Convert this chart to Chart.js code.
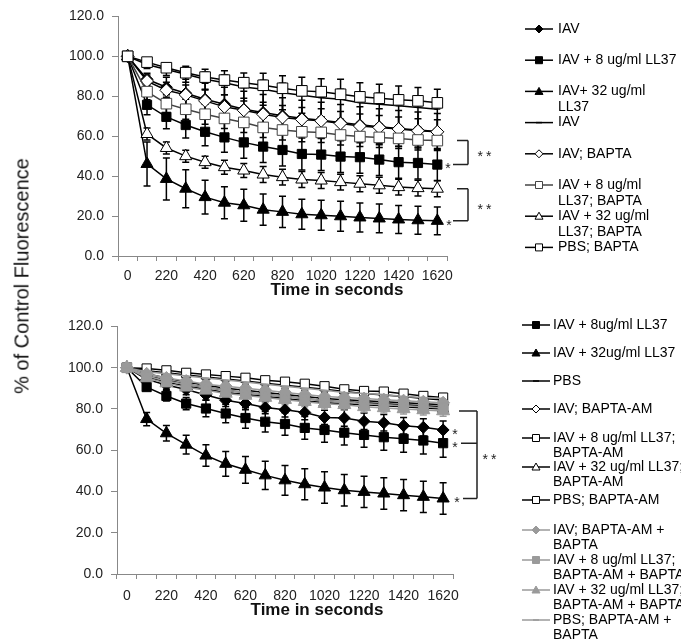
<!DOCTYPE html>
<html>
<head>
<meta charset="utf-8">
<script src="https://cdn.jsdelivr.net/npm/chart.js@4.4.0/dist/chart.umd.min.js"></script>
<style>
body { margin: 0; background: #fff; width: 681px; height: 640px; position: relative; overflow: hidden; font-family: "Liberation Sans", Arial, sans-serif; }
#w1 { position: absolute; left: 0; top: 0; width: 681px; height: 310px; }
#w2 { position: absolute; left: 0; top: 310px; width: 681px; height: 330px; }
#ytitle { position: absolute; left: 22px; top: 276px; transform: translate(-50%, -50%) rotate(-90deg); white-space: nowrap; font-size: 20px; color: #111; }
</style>
</head>
<body>
<div id="w1"><canvas id="g1" width="681" height="310"></canvas></div>
<div id="w2"><canvas id="g2" width="681" height="330"></canvas></div>
<div id="ytitle">% of Control Fluorescence</div>
<script>
var FONT = "'Liberation Sans', Arial, sans-serif";

// time points (s)
var timeLabels = ['0', '120', '220', '320', '420', '520', '620', '720', '820', '920', '1020', '1120', '1220', '1320', '1420', '1520', '1620'];

// top panel
var iavTop       = [100, 88.5, 84.5, 81.5, 78.5, 76, 73.5, 71.9, 70.2, 69, 68, 66.9, 65.7, 64.7, 63.9, 63.1, 62.4];
var iav8Top      = [100, 75.7, 69.7, 65.6, 62.2, 59.4, 56.9, 54.8, 53.1, 51.1, 50.8, 49.8, 49.5, 48.3, 47, 46.6, 45.8];
var iav32Top     = [100, 46.1, 38.6, 33.7, 29.5, 26.7, 25.4, 23.2, 22.1, 20.9, 20.4, 19.9, 19.3, 18.8, 18.3, 17.9, 17.6];
var iavLineTop   = [100, 95.9, 93.4, 91, 88.5, 86.8, 84.6, 83.5, 81.8, 80.5, 79.3, 78.5, 76.8, 76, 75.2, 74.4, 73.5];
var iavBapTop    = [100, 87.6, 83, 80.7, 77.7, 74.7, 73, 71, 69.4, 68.4, 67.7, 66.4, 65.1, 64.4, 63.6, 62.7, 62.2];
var iav8BapTop   = [100, 82.3, 76.3, 73.5, 71, 68.9, 66.9, 64.4, 63.1, 62.2, 61.9, 60.6, 59.8, 59.4, 58.9, 58.1, 57.8];
var iav32BapTop  = [100, 61.1, 54.1, 50, 47, 44.5, 42.8, 40.8, 39.5, 38.3, 37.8, 37, 36.2, 35.4, 34.5, 34, 33.7];
var pbsBapTop    = [100, 97.1, 94.3, 91.8, 89.6, 88.1, 86.8, 85.5, 84, 82.7, 82.3, 81, 79.7, 79, 78.2, 77.7, 76.7];

var errIavTop      = [0, 3, 5, 7, 8, 8.5, 9, 9, 9, 9, 9, 9, 9, 9, 9, 9, 9];
var errIav8Top     = [0, 5, 6, 6.5, 7, 7.5, 8, 8, 8, 8, 8, 8, 8, 8, 8, 8, 8];
var errIav32Top    = [0, 11, 10.5, 9.5, 8.5, 8, 8, 7.8, 7.8, 7.5, 7.5, 7.5, 7.3, 7.2, 7, 7, 7];
var errIavLineTop  = [0, 2, 3, 4, 5, 6, 7, 8, 8.5, 9, 9.5, 10, 10, 10, 10, 10, 10];
var errIavBapTop   = [0, 3, 4, 5, 5.5, 6, 6, 6, 6, 6, 6, 6, 6, 6, 6, 6, 6];
var errIav8BapTop  = [0, 4, 4.5, 5, 5, 5, 5, 5, 5, 5, 5, 5, 5, 5, 5, 5, 5];
var errIav32BapTop = [0, 3, 3, 3, 3, 3.5, 3.5, 4, 4, 4, 4, 4, 4, 4, 4, 4, 4];
var errPbsBapTop   = [0, 1.5, 2, 2, 2.5, 2.5, 2.5, 2.5, 2.5, 2.5, 2.5, 2.5, 2.5, 2.5, 2.5, 2.5, 2.5];

// bottom panel
var iavBot       = [100, 94.3, 91.6, 89.4, 86.8, 84.2, 82.6, 80.7, 79.6, 78.3, 75.9, 75.6, 74, 73.3, 71.9, 71.1, 69.8];
var iav8Bot      = [100, 90.6, 86.3, 82.6, 80.2, 77.8, 75.6, 73.8, 72.7, 70.8, 69.8, 68.5, 67.4, 66.3, 65.5, 64.7, 63.4];
var iav32Bot     = [100, 75.1, 68.2, 62.7, 57.4, 53.4, 50.5, 47.8, 45.4, 43.5, 41.9, 40.6, 39.8, 39, 38.2, 37.4, 36.6];
var pbsBot       = [100, 98.5, 97.5, 96.5, 95.5, 94.5, 93.5, 92.5, 91.5, 90.5, 89.5, 88.5, 87.5, 86.8, 86, 85, 84.3];
var iavAmBot     = [100, 97, 95, 93, 91.5, 90, 89, 88, 87, 86, 85, 84.5, 84, 83.5, 83, 82.5, 82];
var iav8AmBot    = [100, 96, 94, 92, 90.5, 89, 88, 87, 86, 85, 84, 83.5, 83, 82.5, 82, 81.5, 81];
var iav32AmBot   = [100, 95.5, 93, 91, 89.5, 88, 87, 86, 85, 84, 83, 82.5, 82, 81.5, 81, 80.5, 80];
var pbsAmBot     = [100, 99.6, 98.7, 97.5, 96.7, 95.9, 95.1, 93.9, 93.2, 92.2, 91, 89.5, 88.7, 88.4, 87.4, 86.3, 85.5];
var iavAmBBot    = [100, 97, 95, 93.5, 92, 91, 90, 89, 88, 87, 86, 85.5, 85, 84.5, 84, 83.5, 83];
var iav8AmBBot   = [100, 96, 93.5, 92, 90.5, 89, 88, 87, 86, 85, 84, 83.5, 82.5, 82, 81.5, 81, 80.5];
var iav32AmBBot  = [100, 95, 92.5, 90.5, 89, 87.5, 86.5, 85.5, 84.5, 83.5, 82.5, 82, 81, 80.5, 80, 79.5, 79];
var pbsAmBBot    = [100, 98, 97, 96, 95, 94, 93, 92, 91, 90, 89, 88, 87.5, 87, 86, 85.5, 85];

var errIavBot    = [0, 1.5, 2, 2.5, 2.5, 3, 3, 3, 3.5, 3.5, 3.5, 4, 4, 4, 4, 4.2, 4.4];
var errIav8Bot   = [0, 1.5, 2.5, 3, 4, 4.5, 5, 5, 5.5, 5.5, 6, 6, 6, 6.3, 6.5, 6.5, 6.8];
var errIav32Bot  = [0, 3.2, 3.8, 4.5, 5.2, 6, 6.5, 6.8, 7.2, 7.5, 7.6, 7.6, 7.6, 7.6, 7.6, 7.6, 7.6];
var errSmallBot  = [0, 1, 1.5, 1.5, 1.5, 1.5, 1.5, 1.5, 1.5, 1.5, 1.5, 1.5, 1.5, 1.5, 1.5, 1.5, 1.5];
var errGrayBot   = [0, 1.5, 2, 2, 2, 2.5, 2.5, 2.5, 2.5, 2.5, 2.5, 2.5, 2.5, 2.5, 2.5, 2.5, 2.5];

var GRAY = '#9a9a9a';

function series(label, data, err, style, radius, fill, stroke, errColor) {
    return {
        label: label,
        data: data,
        errorBars: err,
        errorColor: errColor || '#000',
        borderColor: stroke,
        borderWidth: 1.5,
        pointStyle: style,
        pointRadius: radius,
        pointBackgroundColor: fill,
        pointBorderColor: stroke,
        pointBorderWidth: 1,
        tension: 0,
        fill: false
    };
}

function drawMarker(ctx, style, x, y, r, fill, stroke) {
    ctx.save();
    ctx.fillStyle = fill;
    ctx.strokeStyle = stroke;
    ctx.lineWidth = 1;
    ctx.beginPath();
    if (style === 'rect') {
        ctx.rect(x - r, y - r, 2 * r, 2 * r);
    } else if (style === 'rectRot') {
        ctx.moveTo(x, y - r); ctx.lineTo(x + r, y); ctx.lineTo(x, y + r); ctx.lineTo(x - r, y); ctx.closePath();
    } else if (style === 'triangle') {
        ctx.moveTo(x, y - r); ctx.lineTo(x + r, y + r * 0.75); ctx.lineTo(x - r, y + r * 0.75); ctx.closePath();
    } else {
        ctx.moveTo(x - r, y); ctx.lineTo(x + r, y);
        ctx.lineWidth = 1.5;
        ctx.stroke();
        ctx.restore();
        return;
    }
    ctx.fill();
    ctx.stroke();
    ctx.restore();
}

// error bars, legend, brackets and x title
function makeExtras(cfg) {
    return {
        id: 'extras',
        beforeDatasetsDraw: function (chart) {
            var ctx = chart.ctx, ys = chart.scales.y;
            chart.data.datasets.forEach(function (ds, i) {
                var meta = chart.getDatasetMeta(i);
                ctx.save();
                ctx.strokeStyle = ds.errorColor;
                ctx.lineWidth = 1.5;
                meta.data.forEach(function (pt, j) {
                    var e = ds.errorBars[j];
                    if (!e) return;
                    var yt = ys.getPixelForValue(ds.data[j] + e);
                    var yb = ys.getPixelForValue(ds.data[j] - e);
                    ctx.beginPath();
                    ctx.moveTo(pt.x, yt); ctx.lineTo(pt.x, yb);
                    ctx.moveTo(pt.x - 3.5, yt); ctx.lineTo(pt.x + 3.5, yt);
                    ctx.moveTo(pt.x - 3.5, yb); ctx.lineTo(pt.x + 3.5, yb);
                    ctx.stroke();
                });
                ctx.restore();
            });
        },
        afterDraw: function (chart) {
            var ctx = chart.ctx, ys = chart.scales.y;
            var last = function (i) {
                var d = chart.data.datasets[i].data;
                return ys.getPixelForValue(d[d.length - 1]);
            };

            // legend
            ctx.save();
            ctx.font = '14px ' + FONT;
            ctx.textBaseline = 'middle';
            cfg.legend.forEach(function (item, k) {
                var ds = chart.data.datasets[item];
                var y = cfg.legendY[k];
                ctx.strokeStyle = ds.borderColor;
                ctx.lineWidth = 1.5;
                ctx.beginPath();
                ctx.moveTo(cfg.legendX, y); ctx.lineTo(cfg.legendX + 28, y);
                ctx.stroke();
                var r = ds.pointStyle === 'rect' ? 3.5 : 4;
                if (ds.pointStyle === 'line') r = 3;
                drawMarker(ctx, ds.pointStyle, cfg.legendX + 14, y, r, ds.pointBackgroundColor, ds.pointBorderColor);
                ctx.fillStyle = '#000';
                var lines = [].concat(ds.label);
                lines.forEach(function (t, n) {
                    ctx.fillText(t, cfg.legendX + cfg.textGap, y + n * cfg.lineGap);
                });
            });
            ctx.restore();

            // stars and brackets
            ctx.save();
            ctx.fillStyle = '#222';
            ctx.strokeStyle = '#222';
            ctx.lineWidth = 1.5;
            ctx.font = '14px ' + FONT;
            ctx.textAlign = 'center';
            ctx.textBaseline = 'middle';
            cfg.stars.forEach(function (s) {
                ctx.fillText('*', s.x, last(s.ds) + 5);
            });
            cfg.brackets.forEach(function (b) {
                var ys2 = b.ds.map(last);
                var top = Math.min.apply(null, ys2), bot = Math.max.apply(null, ys2);
                ctx.beginPath();
                ctx.moveTo(b.x, top); ctx.lineTo(b.x, bot);
                b.ds.forEach(function (i, n) {
                    var y = last(i);
                    ctx.moveTo(b.starts[n], y); ctx.lineTo(b.x, y);
                });
                ctx.stroke();
                ctx.letterSpacing = '3px';
                ctx.fillText('**', b.labelX, (top + bot) / 2 + 5);
                ctx.letterSpacing = '0px';
            });
            ctx.restore();

            // x title
            ctx.save();
            ctx.font = 'bold 17px ' + FONT;
            ctx.fillStyle = '#111';
            ctx.textAlign = 'center';
            ctx.textBaseline = 'middle';
            ctx.fillText('Time in seconds', cfg.titleX, cfg.titleY);
            ctx.restore();
        }
    };
}

function makeOptions(axisLeft, axisRight, xHeight, tickPad) {
    return {
        responsive: false,
        animation: false,
        layout: { padding: { left: 0, right: 681 - axisRight, top: 15, bottom: 0 } },
        plugins: { legend: { display: false }, tooltip: { enabled: false } },
        scales: {
            x: {
                type: 'category',
                offset: true,
                afterFit: function (s) { s.height = xHeight; },
                grid: { display: true, drawOnChartArea: false, drawTicks: true, tickLength: 5, offset: true, color: '#888' },
                border: { color: '#888', width: 1 },
                ticks: {
                    autoSkip: false, maxRotation: 0, padding: tickPad, color: '#222',
                    font: { family: FONT, size: 14 },
                    callback: function (v, i) { return i % 2 === 0 ? this.getLabelForValue(v) : ''; }
                }
            },
            y: {
                min: 0, max: 120,
                afterFit: function (s) { s.width = axisLeft; },
                grid: { drawOnChartArea: false, drawTicks: true, tickLength: 6, color: '#888' },
                border: { color: '#888', width: 1 },
                ticks: {
                    stepSize: 20, padding: 8, color: '#222',
                    font: { family: FONT, size: 14 },
                    callback: function (v) { return v.toFixed(1); }
                }
            }
        }
    };
}

function withOrder(list) {
    list.forEach(function (d, i) { d.order = list.length - i; });
    return list;
}

var topSets = withOrder([
    series('IAV', iavTop, errIavTop, 'rectRot', 6, '#000', '#000'),
    series('IAV + 8 ug/ml LL37', iav8Top, errIav8Top, 'rect', 6.5, '#000', '#000'),
    series(['IAV+ 32 ug/ml', 'LL37'], iav32Top, errIav32Top, 'triangle', 7, '#000', '#000'),
    series('IAV', iavLineTop, errIavLineTop, 'line', 3, '#000', '#000'),
    series('IAV; BAPTA', iavBapTop, errIavBapTop, 'rectRot', 6.5, '#fff', '#000'),
    series(['IAV + 8 ug/ml', 'LL37; BAPTA'], iav8BapTop, errIav8BapTop, 'rect', 7.5, '#fff', '#444'),
    series(['IAV + 32 ug/ml', 'LL37; BAPTA'], iav32BapTop, errIav32BapTop, 'triangle', 7, '#fff', '#000'),
    series('PBS; BAPTA', pbsBapTop, errPbsBapTop, 'rect', 7.5, '#fff', '#000')
]);

var botSets = withOrder([
    series('IAV', iavBot, errIavBot, 'rectRot', 6, '#000', '#000'),
    series('IAV + 8ug/ml LL37', iav8Bot, errIav8Bot, 'rect', 6.5, '#000', '#000'),
    series('IAV + 32ug/ml LL37', iav32Bot, errIav32Bot, 'triangle', 7, '#000', '#000'),
    series('PBS', pbsBot, errSmallBot, 'line', 3, '#000', '#000'),
    series('IAV; BAPTA-AM', iavAmBot, errSmallBot, 'rectRot', 5.5, '#fff', '#000'),
    series(['IAV + 8 ug/ml LL37;', 'BAPTA-AM'], iav8AmBot, errSmallBot, 'rect', 6.5, '#fff', '#000'),
    series(['IAV + 32 ug/ml LL37;', 'BAPTA-AM'], iav32AmBot, errSmallBot, 'triangle', 6.5, '#fff', '#000'),
    series('PBS; BAPTA-AM', pbsAmBot, errSmallBot, 'rect', 6.5, '#fff', '#000'),
    series(['IAV; BAPTA-AM +', 'BAPTA'], iavAmBBot, errGrayBot, 'rectRot', 6.5, GRAY, GRAY, GRAY),
    series(['IAV + 8 ug/ml LL37;', 'BAPTA-AM + BAPTA'], iav8AmBBot, errGrayBot, 'rect', 7, GRAY, GRAY, GRAY),
    series(['IAV + 32 ug/ml LL37;', 'BAPTA-AM + BAPTA'], iav32AmBBot, errGrayBot, 'triangle', 7.5, GRAY, GRAY, GRAY),
    series(['PBS; BAPTA-AM +', 'BAPTA'], pbsAmBBot, errGrayBot, 'line', 3, GRAY, GRAY, GRAY)
]);

var topLegendY = [];
for (var k = 0; k < 8; k++) topLegendY.push(29 + k * 31.2);

new Chart(document.getElementById('g1'), {
    type: 'line',
    data: { labels: timeLabels, datasets: topSets },
    options: makeOptions(118, 447, 54, 7),
    plugins: [makeExtras({
        legend: [0, 1, 2, 3, 4, 5, 6, 7],
        legendX: 525, legendY: topLegendY, textGap: 33, lineGap: 16,
        stars: [{ ds: 1, x: 448 }, { ds: 2, x: 449 }],
        brackets: [
            { ds: [5, 1], x: 468, starts: [457, 453], labelX: 486 },
            { ds: [6, 2], x: 468, starts: [457, 453], labelX: 486 }
        ],
        titleX: 337, titleY: 290
    })]
});

new Chart(document.getElementById('g2'), {
    type: 'line',
    data: { labels: timeLabels, datasets: botSets },
    options: makeOptions(117, 453, 66, 9),
    plugins: [makeExtras({
        legend: [1, 2, 3, 4, 5, 6, 7, 8, 9, 10, 11],
        legendX: 522, legendY: [15, 43, 71, 99, 128, 157, 190, 220, 250, 280, 310], textGap: 31, lineGap: 15,
        stars: [{ ds: 0, x: 455 }, { ds: 1, x: 455 }, { ds: 2, x: 457 }],
        brackets: [
            { ds: [10, 1, 2], x: 477, starts: [459, 461, 463], labelX: 491 }
        ],
        titleX: 317, titleY: 300
    })]
});
</script>
</body>
</html>
